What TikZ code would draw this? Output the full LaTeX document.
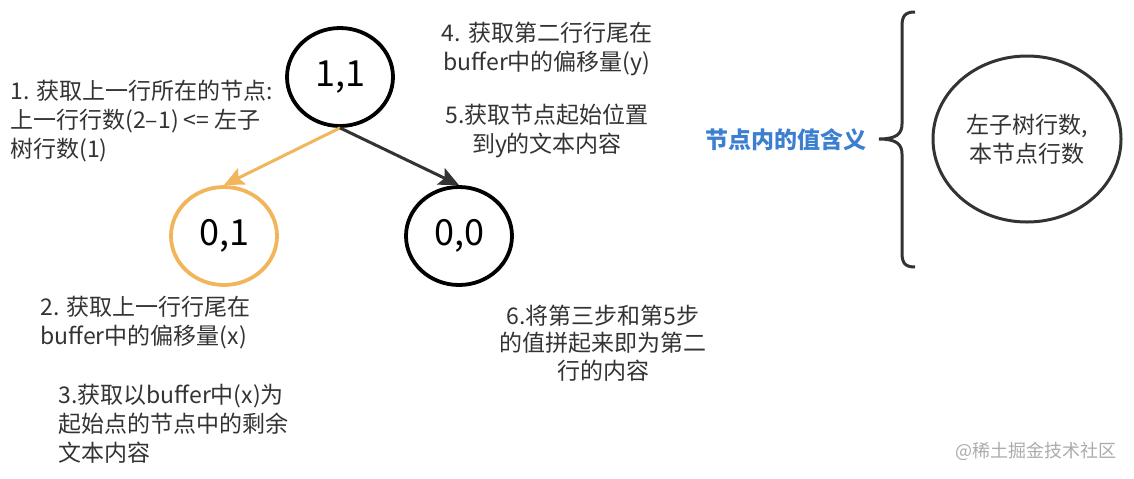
\documentclass[tikz,border=0pt]{standalone}
\usepackage{fontspec}
\setmainfont{Noto Sans CJK SC}
\usetikzlibrary{arrows.meta, shapes.geometric}
\definecolor{cdark}{HTML}{333333}
\definecolor{corange}{HTML}{F2B55C}
\definecolor{cblue}{HTML}{3C7FCF}
\definecolor{cmark}{HTML}{ABABAB}
\tikzset{
  treenode/.style={draw=#1, ellipse, line width=1.9pt, inner sep=0pt,
    minimum width=53pt, minimum height=49pt, font=\fontsize{18}{20}\selectfont},
  treenode/.default=black,
  arrow/.style={-{Stealth[length=10pt, width=9pt, inset=2pt]}, draw=#1, line width=1.5pt},
  arrow/.default=cdark,
  note/.style={text=cdark, inner sep=0pt, font=\fontsize{11.5}{14.5}\selectfont},
}
\begin{document}
\begin{tikzpicture}[x=0.5pt, y=-0.5pt]
  \useasboundingbox (0,0) rectangle (1134,478);
  % tree
  \node[treenode] (n11) at (340,77) {1,1};
  \node[treenode=corange] (n01) at (224,236) {0,1};
  \node[treenode] (n00) at (459,236) {0,0};
  \draw[arrow=corange] (n11.south) -- (n01.north);
  \draw[arrow] (n11.south) -- (n00.north);
  % steps
  \node[note, anchor=west, align=left] (s1) at (10,121.5) {1. 获取上一行所在的节点:\\上一行行数(2–1) <= 左子\\树行数(1)};
  \node[note, align=center] (s4) at (547,49) {4. 获取第二行行尾在\\buffer中的偏移量(y)};
  \node[note, align=center] (s5) at (547,131) {5.获取节点起始位置\\到y的文本内容};
  \node[note, anchor=west, align=left] (s2) at (40,322.5) {2. 获取上一行行尾在\\buffer中的偏移量(x)};
  \node[note, anchor=west, align=left] (s3) at (58,424) {3.获取以buffer中(x)为\\起始点的节点中的剩余\\文本内容};
  \node[note, align=center, font=\fontsize{11.5}{13.8}\selectfont] (s6) at (603,343) {6.将第三步和第5步\\的值拼起来即为第二\\行的内容};
  % legend
  \node[note, text=cblue, font=\fontsize{11.5}{14.5}\selectfont\bfseries] (title) at (786,140) {节点内的值含义};
  \draw[cdark, line width=1.5pt] (915,12) .. controls (905,12) and (902,16) .. (902,26) -- (902,124)
    .. controls (902,134) and (896,139) .. (879,139) .. controls (896,139) and (902,144) .. (902,154)
    -- (902,253) .. controls (902,263) and (905,267) .. (915,267);
  \node[draw=cdark, ellipse, line width=1.5pt, minimum width=94pt, minimum height=83pt] (key) at (1027,139) {};
  \node[note, align=center] (keytext) at (key.center) {左子树行数,\\本节点行数};
  \node[text=cmark, font=\fontsize{9}{10}\selectfont] (mark) at (1036,451) {@稀土掘金技术社区};
\end{tikzpicture}
\end{document}
